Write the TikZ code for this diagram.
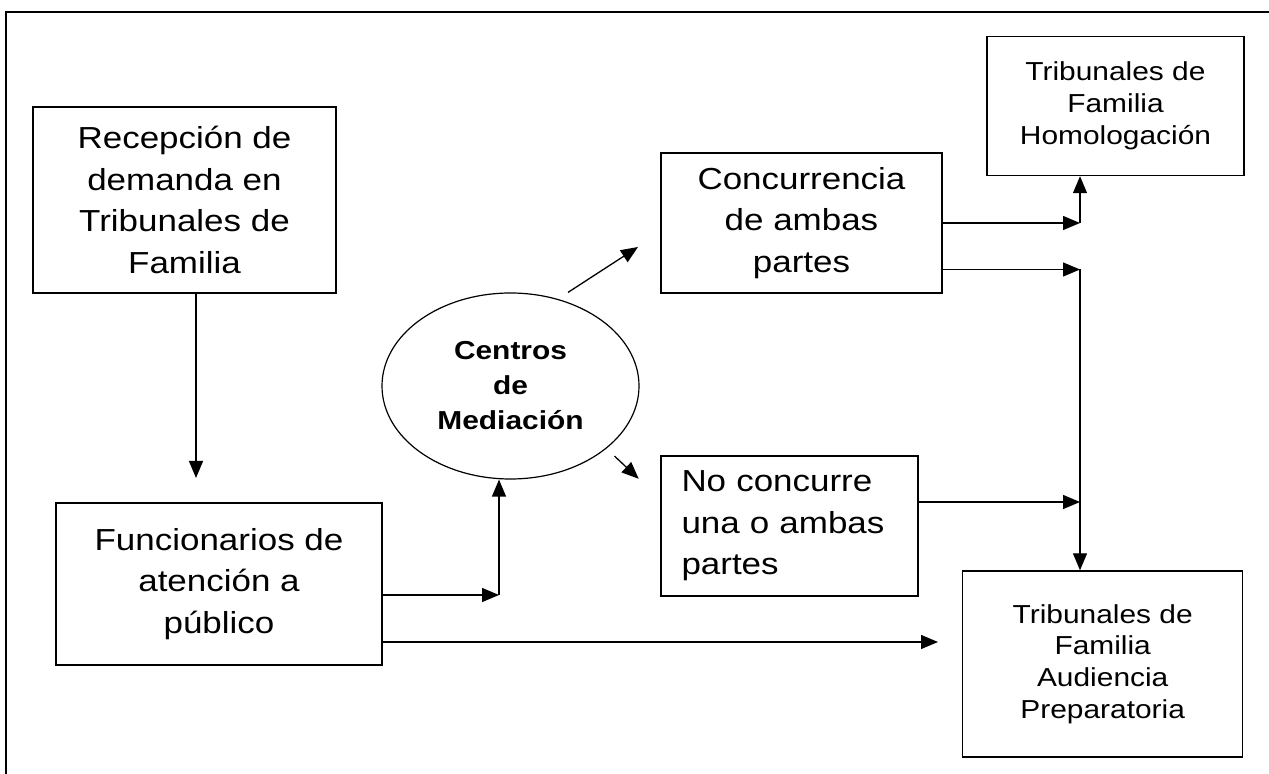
\documentclass[tikz,border=0pt]{standalone}
\usepackage{fontspec}
\setmainfont{Liberation Sans}[FakeStretch=1.15]
\usetikzlibrary{shapes.geometric,arrows.meta}

\begin{document}
\begin{tikzpicture}[x=0.5pt, y=-0.5pt,
caja/.style={draw, line width=0.7pt, inner sep=0pt, align=center, font=\fontsize{15.2}{20.8}\selectfont},
cajachica/.style={caja, font=\fontsize{13}{15.9}\selectfont},
centro/.style={draw, ellipse, line width=0.6pt, inner sep=0pt, align=center, font=\fontsize{13}{17.5}\selectfont\bfseries},
flecha/.style={line width=0.65pt, -{Triangle[length=8.5pt, width=7pt]}}]
\useasboundingbox (0,0) rectangle (1269,774);
\draw[line width=0.7pt] (6,774) -- (6,12) -- (1269,12);
\node  (1)[caja, minimum width=151.5pt, minimum height=93pt] at (184.5,200) {Recepción de\\demanda en\\Tribunales de\\Familia};
\node  (2)[caja, minimum width=163pt, minimum height=81pt] at (219,584) {Funcionarios de\\atención a\\público};
\node  (3)[centro, minimum width=128.5pt, minimum height=93pt] at (510.5,386) {Centros\\de\\Mediación};
\node  (4)[caja, minimum width=140.5pt, minimum height=70pt] at (801.5,223) {Concurrencia\\de ambas\\partes};
\node  (5)[caja, align=left, text width=108pt, inner xsep=10.25pt, minimum height=70pt] at (789.5,526) {No concurre\\una o ambas\\partes};
\node  (6)[cajachica, minimum width=128.5pt, minimum height=69.5pt] at (1115.5,106) {Tribunales de\\Familia\\Homologación};
\node  (7)[cajachica, minimum width=140pt, minimum height=93pt] at (1102.7,664) {Tribunales de\\Familia\\Audiencia\\Preparatoria};
\coordinate (a1) at (196,478);
\coordinate (a2) at (499,595);
\coordinate (a3) at (938,642);
\coordinate (a4) at (638,247);
\coordinate (a5) at (638.7,478.8);
\coordinate (b1) at (1080,223);
\coordinate (b2) at (1080,269.5);
\coordinate (b3) at (1080,502);
\draw[flecha] (1.south -| a1) -- (a1);
\draw[flecha] (2.east |- a2) -- (a2);
\draw[flecha] (a2) -- (a2 |- 3.south);
\draw[flecha] (2.east |- a3) -- (a3);
\draw[flecha] ([xshift=28.75pt]3.north) -- (a4);
\draw[flecha] ([xshift=52pt, yshift=11.75pt]3.south) -- (a5);
\draw[flecha] (4.east |- b1) -- (b1);
\draw[flecha] (b1) -- (b1 |- 6.south);
\draw[flecha] (4.east |- b2) -- (b2);
\draw[flecha] (b2) -- (b2 |- 7.north);
\draw[flecha] (5.east |- b3) -- (b3);
\end{tikzpicture}
\end{document}
